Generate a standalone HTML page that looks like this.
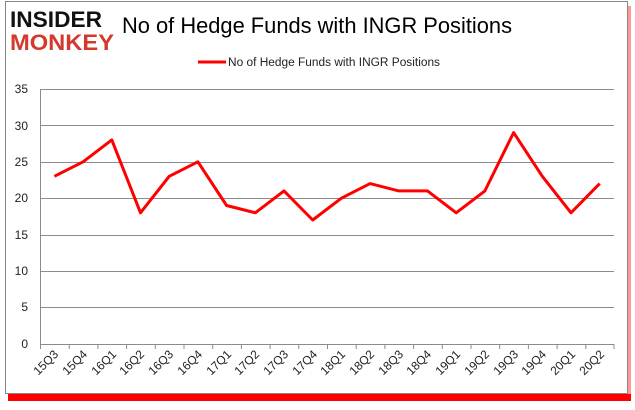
<!DOCTYPE html>
<html><head><style>body{margin:0;background:#fff}</style></head><body>
<svg width="635" height="405" xmlns="http://www.w3.org/2000/svg" font-family="Liberation Sans, sans-serif">
<rect x="0" y="0" width="635" height="405" fill="#fff"/>
<rect x="8" y="394" width="623" height="7" fill="#ff0000"/>
<rect x="628" y="6" width="3" height="395" fill="#ff0000" opacity="0.4"/>
<rect x="5.5" y="1.5" width="622" height="392" fill="#fff" stroke="#888" stroke-width="1"/>
<text x="10" y="27" font-size="22" font-weight="bold" fill="#111" textLength="92" lengthAdjust="spacingAndGlyphs">INSIDER</text>
<text x="10" y="50" font-size="22" font-weight="bold" fill="#d33a2c" textLength="104" lengthAdjust="spacingAndGlyphs">MONKEY</text>
<text x="122" y="33" font-size="22" fill="#000" textLength="390" lengthAdjust="spacingAndGlyphs">No of Hedge Funds with INGR Positions</text>
<line x1="198" y1="62" x2="226" y2="62" stroke="#ff0000" stroke-width="3"/>
<text x="228" y="66" font-size="11.5" fill="#222" textLength="212" lengthAdjust="spacingAndGlyphs">No of Hedge Funds with INGR Positions</text>
<g stroke="#8c8c8c" stroke-width="1">
<line x1="40" y1="89.5" x2="614" y2="89.5"/><line x1="40" y1="125.5" x2="614" y2="125.5"/>
<line x1="40" y1="162.5" x2="614" y2="162.5"/><line x1="40" y1="198.5" x2="614" y2="198.5"/>
<line x1="40" y1="235.5" x2="614" y2="235.5"/><line x1="40" y1="271.5" x2="614" y2="271.5"/>
<line x1="40" y1="307.5" x2="614" y2="307.5"/><line x1="40" y1="344.5" x2="614" y2="344.5"/>
<line x1="40.5" y1="89" x2="40.5" y2="344"/>
</g>
<g font-size="12" fill="#222" text-anchor="end">
<text x="28" y="93">35</text><text x="28" y="130">30</text><text x="28" y="166">25</text><text x="28" y="202">20</text><text x="28" y="239">15</text><text x="28" y="275">10</text><text x="28" y="311">5</text><text x="28" y="348">0</text>
</g>
<polyline fill="none" stroke="#ff0000" stroke-width="3" stroke-linejoin="round" points="54.4,176.3 83.1,161.8 111.8,139.9 140.5,212.8 169.2,176.3 197.9,161.8 226.6,205.5 255.3,212.8 284,190.9 312.7,220 341.4,198.2 370.1,183.6 398.8,190.9 427.5,190.9 456.2,212.8 484.9,190.9 513.6,132.6 542.3,176.3 571,212.8 599.7,183.6"/>
<g font-size="12" fill="#222" text-anchor="end">
<text transform="translate(59,355) rotate(-45)">15Q3</text><text transform="translate(88,355) rotate(-45)">15Q4</text><text transform="translate(117,355) rotate(-45)">16Q1</text><text transform="translate(145,355) rotate(-45)">16Q2</text><text transform="translate(174,355) rotate(-45)">16Q3</text><text transform="translate(203,355) rotate(-45)">16Q4</text><text transform="translate(232,355) rotate(-45)">17Q1</text><text transform="translate(260,355) rotate(-45)">17Q2</text><text transform="translate(289,355) rotate(-45)">17Q3</text><text transform="translate(318,355) rotate(-45)">17Q4</text><text transform="translate(346,355) rotate(-45)">18Q1</text><text transform="translate(375,355) rotate(-45)">18Q2</text><text transform="translate(404,355) rotate(-45)">18Q3</text><text transform="translate(432,355) rotate(-45)">18Q4</text><text transform="translate(461,355) rotate(-45)">19Q1</text><text transform="translate(490,355) rotate(-45)">19Q2</text><text transform="translate(519,355) rotate(-45)">19Q3</text><text transform="translate(547,355) rotate(-45)">19Q4</text><text transform="translate(576,355) rotate(-45)">20Q1</text><text transform="translate(605,355) rotate(-45)">20Q2</text>
</g>
<g stroke="#8c8c8c">
<path d="M40.5 344v5M69.2 344v5M97.9 344v5M126.6 344v5M155.3 344v5M184 344v5M212.7 344v5M241.4 344v5M270.1 344v5M298.8 344v5M327.5 344v5M356.2 344v5M384.9 344v5M413.6 344v5M442.3 344v5M471 344v5M499.7 344v5M528.4 344v5M557.1 344v5M585.8 344v5M614 344v5"/>
</g>
</svg>
</body></html>
